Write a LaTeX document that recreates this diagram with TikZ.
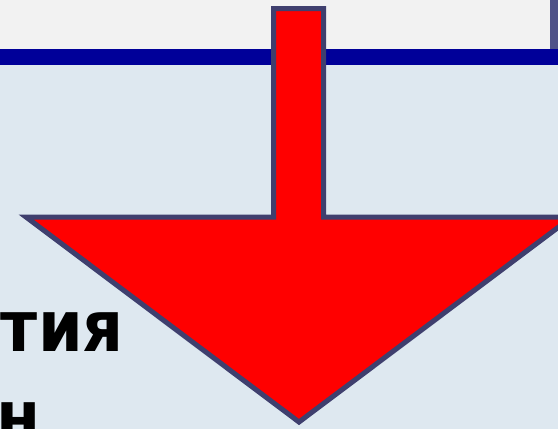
\documentclass[tikz,border=0pt]{standalone}
\usepackage{fontspec}
\newfontfamily\slidefont{DejaVu Sans}[FakeStretch=0.9]
\usetikzlibrary{positioning}
\definecolor{slideGray}  {HTML}{F2F2F2}
\definecolor{bandBlue}   {HTML}{000099}
\definecolor{slideBg}    {HTML}{DEE8F0}
\definecolor{edgeSlate}  {HTML}{4F5289}
\definecolor{arrowEdge}  {HTML}{3F3F6E}
\definecolor{arrowRed}   {HTML}{FF0000}
\tikzset{
  bigarrow/.style={fill=arrowRed,draw=arrowEdge,line width=5pt,line join=miter},
  slidetext/.style={inner sep=0pt,font=\slidefont\bfseries\fontsize{71}{75}\selectfont,text=black},
}
\begin{document}
\begin{tikzpicture}[x=1pt,y=-1pt]

\useasboundingbox (0,0) rectangle (558,429);
\clip (0,0) rectangle (558,429);

% slide background
\fill[slideBg]   (0,0) rectangle (558,429);
\fill[slideGray] (0,0) rectangle (558,49);
\fill[bandBlue]  (0,49) rectangle (558,65);
\fill[edgeSlate] (550,0) rectangle (558,49);

% text cut at the left edge
\node[slidetext,anchor=base east] (word1) at (124,351) {тия};
\node[slidetext,anchor=base west] (word2) at (-4,441) {н};

% the arrow
\draw[bigarrow] (273.5,8.5) -- (323.5,8.5) -- (323.5,217) -- (572,217)
  -- (299,422) -- (26,217) -- (273.5,217) -- cycle;

\end{tikzpicture}
\end{document}
